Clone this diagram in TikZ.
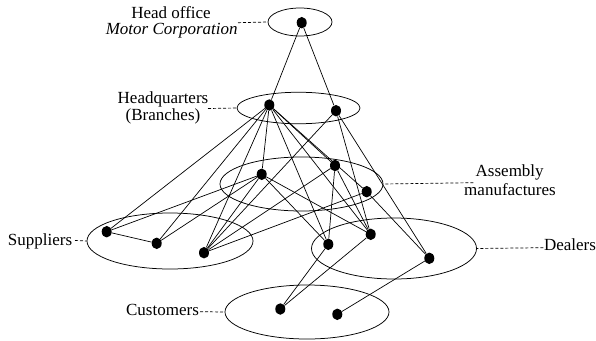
\documentclass[tikz,border=0pt]{standalone}
\usepackage{fontspec}
\setmainfont{Liberation Serif}
\newfontfamily\lblfont{Liberation Serif}
\usetikzlibrary{shapes.geometric}
\begin{document}
\begin{tikzpicture}[x=1pt,y=-1pt,
  dot/.style={ellipse, fill=black, inner sep=0pt, minimum width=10pt, minimum height=11.5pt},
  grp/.style={draw, ellipse, inner sep=0pt, line width=0.75pt},
  lbl/.style={font=\lblfont\fontsize{17}{17}\selectfont, anchor=base, inner sep=0pt},
  link/.style={line width=0.7pt},
  lead/.style={line width=0.7pt, dash pattern=on 3pt off 2pt}]
\useasboundingbox (0,0) rectangle (596,340);
% group ellipses
\node[grp, minimum width=64pt, minimum height=28pt] (E0) at (300,22) {};
\node[grp, minimum width=123pt, minimum height=31.5pt] (E1) at (298.5,108) {};
\node[grp, minimum width=163pt, minimum height=54pt] (E2) at (301.5,184) {};
\node[grp, minimum width=166pt, minimum height=56pt] (E3) at (170,241) {};
\node[grp, minimum width=165pt, minimum height=61pt] (E4) at (394,248.5) {};
\node[grp, minimum width=164pt, minimum height=54pt] (E5) at (307,312) {};
% dots
\node[dot] (H) at (301.7,22.7) {};
\node[dot] (Q1) at (269.3,105) {};
\node[dot] (Q2) at (336,110.7) {};
\node[dot] (A1) at (261.7,174.3) {};
\node[dot] (A2) at (335,165.5) {};
\node[dot] (A3) at (366.7,191.7) {};
\node[dot] (S1) at (106.7,231.7) {};
\node[dot] (S2) at (156.7,243.3) {};
\node[dot] (S3) at (204,252.7) {};
\node[dot] (D1) at (328.3,244.3) {};
\node[dot] (D2) at (370.7,234.3) {};
\node[dot] (D3) at (429.3,258.3) {};
\node[dot] (C1) at (280.3,309) {};
\node[dot] (C2) at (337.3,314.3) {};
% connectors
\draw[link] (H) -- (Q1);
\draw[link] (H) -- (Q2);
\foreach \t in {S1,S2,S3,A1,A2,A3,D1,D2} \draw[link] (Q1) -- (\t);
\foreach \t in {S3,D2,D3} \draw[link] (Q2) -- (\t);
\foreach \t in {S1,S2,S3,D1,D2} \draw[link] (A1) -- (\t);
\foreach \t in {S3,D1,D2} \draw[link] (A2) -- (\t);
\foreach \t in {S3,D3} \draw[link] (A3) -- (\t);
\draw[link] (S1) -- (S2);
\draw[link] (C1) -- (D1);
\draw[link] (C1) -- (D2);
\draw[link] (C2) -- (D3);
% labels
\node[lbl] (t1) at (171,18.3) {Head office};
\node[lbl] (t2) at (171.7,34.3) {\itshape Motor Corporation};
\node[lbl] (t3) at (163,103.5) {Headquarters};
\node[lbl] (t4) at (163,120) {(Branches)};
\node[lbl] (t5) at (509.7,176.7) {Assembly};
\node[lbl] (t6) at (510,195) {manufactures};
\node[lbl] (t7) at (40,245) {Suppliers};
\node[lbl] (t8) at (570,250.5) {Dealers};
\node[lbl] (t9) at (162.5,315.7) {Customers};
% leader lines
\coordinate (l1) at (238,22.7);
\coordinate (l3) at (208,108.5);
\coordinate (l5) at (473.3,182.7);
\coordinate (l7) at (75,240.5);
\coordinate (l8) at (543.3,247.7);
\coordinate (l9) at (200,311.7);
\draw[lead] (l1) -- (E0.west);
\draw[lead] (l3) -- (E1.west);
\draw[lead] (l5) -- (E2.east);
\draw[lead] (l7) -- (E3.west);
\draw[lead] (l8) -- (E4.east);
\draw[lead] (l9) -- (E5.west);
\end{tikzpicture}
\end{document}
